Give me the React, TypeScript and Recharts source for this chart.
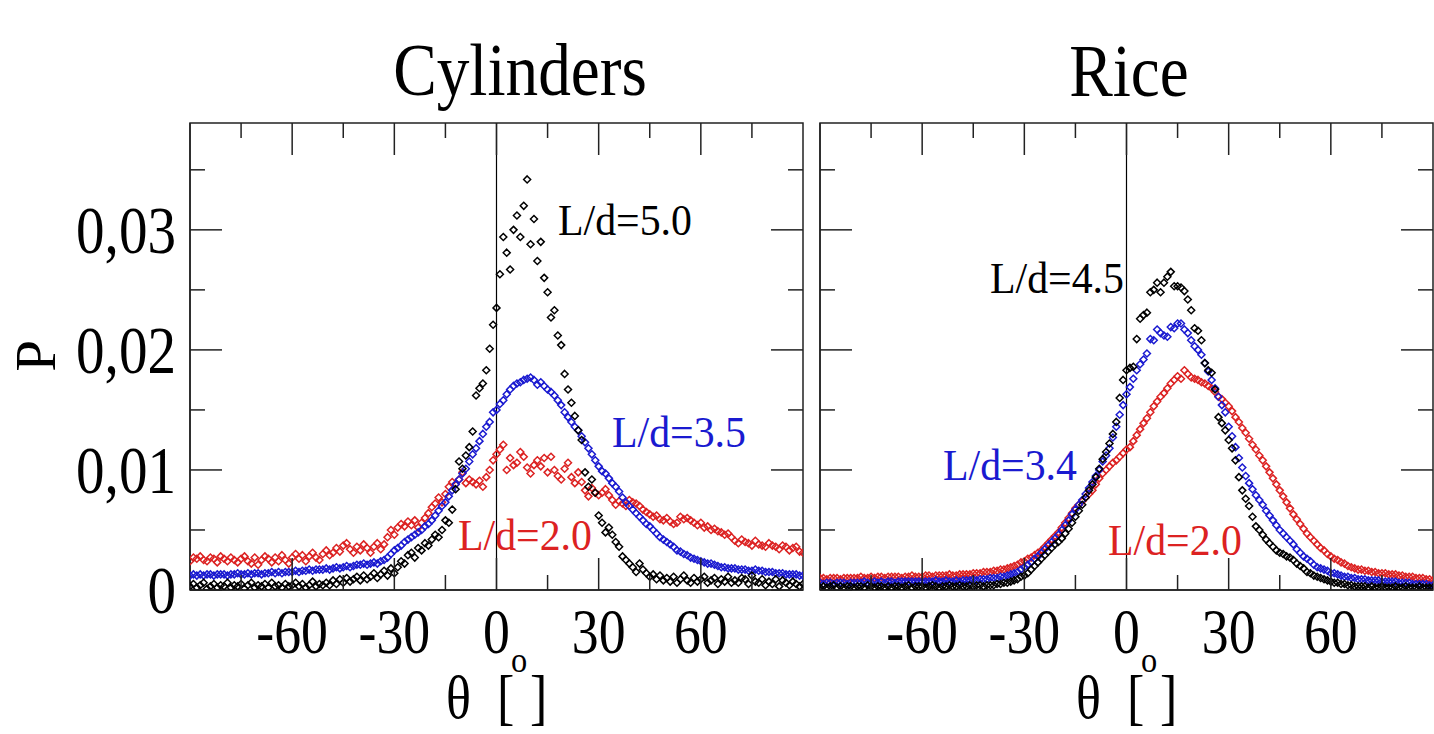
import React from "react";
import {
  ScatterChart,
  Scatter,
  XAxis,
  YAxis,
  ReferenceLine,
  ReferenceArea,
} from "recharts";

// one bin per degree, -90..90
const theta = Array.from({ length: 181 }, (_, i) => i - 90);

// P x 10^4 per bin, cylinders
const cylinders50 = [
  3, 5, 2, 4, 6, 1, 3, 5, 2, 4,
  3, 6, 2, 4, 3, 5, 1, 4, 6, 2,
  4, 3, 5, 2, 6, 3, 4, 2, 5, 3,
  4, 6, 3, 5, 2, 4, 7, 3, 5, 4,
  6, 4, 8, 5, 9, 6, 10, 7, 9, 11,
  8, 12, 9, 11, 14, 10, 13, 16, 12, 18,
  14, 19, 24, 22, 29, 31, 27, 35, 33, 39,
  37, 42, 46, 44, 50, 58, 56, 67, 84, 107,
  101, 112, 119, 132, 162, 168, 172, 183, 201, 221,
  235, 263, 294, 281, 267, 300, 312, 294, 320, 342,
  288, 309, 274, 290, 260, 248, 227, 233, 212, 204,
  180, 167, 156, 145, 133, 125, 98, 86, 92, 81,
  62, 56, 48, 52, 46, 40, 36, 28, 25, 22,
  19, 15, 22, 17, 14, 11, 13, 9, 12, 8,
  10, 7, 11, 6, 9, 12, 8, 6, 10, 7,
  9, 11, 6, 8, 10, 5, 9, 7, 11, 6,
  8, 6, 10, 9, 5, 12, 7, 6, 9, 4,
  7, 5, 9, 3, 8, 6, 4, 7, 5, 3,
  5,
];

const cylinders35 = [
  12, 13, 12, 13, 12, 13, 13, 12, 13, 13,
  13, 12, 13, 13, 14, 13, 13, 14, 13, 14,
  14, 13, 14, 14, 15, 14, 15, 14, 15, 15,
  15, 16, 15, 16, 16, 17, 16, 17, 17, 17,
  18, 17, 18, 19, 18, 19, 20, 19, 20, 21,
  21, 22, 21, 22, 23, 22, 24, 25, 27, 30,
  33, 35, 37, 40, 42, 44, 46, 48, 50, 53,
  55, 58, 62, 66, 70, 73, 78, 83, 88, 92,
  97, 101, 107, 113, 118, 124, 130, 136, 140, 148,
  150, 155, 158, 163, 167, 170, 172, 173, 175, 176,
  177, 175, 171, 173, 170, 167, 165, 162, 158, 154,
  148, 144, 140, 136, 133, 128, 123, 118, 113, 108,
  103, 99, 97, 93, 89, 86, 82, 77, 73, 70,
  67, 64, 61, 58, 55, 53, 50, 47, 44, 42,
  40, 38, 36, 33, 32, 30, 29, 27, 26, 25,
  24, 23, 22, 22, 21, 20, 19, 19, 18, 18,
  18, 17, 17, 17, 16, 16, 17, 16, 16, 15,
  15, 15, 14, 14, 14, 13, 13, 13, 13, 12,
  12,
];

const cylinders20 = [
  24, 27, 26, 28, 25, 24, 27, 26, 23, 28,
  26, 24, 27, 25, 23, 26, 28, 24, 22, 27,
  21, 25, 28, 26, 23, 27, 24, 29, 25, 22,
  27, 30, 26, 29, 24, 28, 31, 27, 25, 30,
  33, 29, 31, 35, 32, 37, 39, 34, 31, 36,
  33, 38, 35, 31, 36, 39, 34, 38, 44, 50,
  46, 52, 55, 53, 57, 54, 58, 52, 56, 60,
  64, 69, 72, 77, 73, 80, 86, 90, 88, 92,
  98, 89, 92, 90, 88, 91, 86, 94, 100, 108,
  113, 117, 121, 100, 110, 104, 106, 115, 111, 102,
  97, 104, 108, 103, 110, 98, 111, 100, 95, 92,
  101, 106, 94, 89, 98, 90, 83, 78, 85, 81,
  79, 81, 84, 79, 75, 71, 74, 72, 70, 75,
  73, 72, 70, 67, 65, 63, 61, 62, 59, 58,
  60, 57, 55, 56, 61, 59, 60, 58, 56, 54,
  56, 52, 53, 50, 51, 49, 48, 46, 47, 44,
  41, 39, 42, 40, 39, 37, 41, 38, 37, 36,
  39, 37, 36, 34, 37, 36, 33, 35, 36, 32,
  31,
];

// P x 10^4 per bin, rice
const rice45 = [
  2, 3, 2, 3, 4, 2, 3, 2, 3, 3,
  2, 3, 3, 2, 4, 3, 2, 3, 3, 2,
  3, 2, 3, 3, 2, 3, 4, 2, 3, 3,
  3, 2, 3, 4, 3, 2, 3, 3, 4, 3,
  3, 4, 3, 3, 4, 3, 4, 4, 3, 4,
  4, 4, 5, 5, 6, 6, 7, 8, 9, 11,
  12, 14, 17, 20, 23, 26, 29, 32, 35, 38,
  40, 43, 47, 51, 56, 61, 66, 71, 77, 83,
  88, 94, 101, 109, 115, 122, 130, 140, 160, 175,
  183, 185, 186, 209, 226, 229, 231, 248, 250, 256,
  248, 256, 261, 265, 253, 253, 252, 249, 242, 233,
  218, 216, 208, 189, 183, 181, 167, 144, 139, 133,
  125, 118, 108, 94, 83, 76, 70, 61, 53, 50,
  46, 42, 39, 36, 33, 31, 30, 28, 27, 25,
  22, 20, 18, 15, 14, 12, 11, 10, 9, 8,
  7, 6, 6, 5, 5, 4, 4, 3, 3, 3,
  3, 2, 3, 2, 2, 3, 2, 2, 2, 3,
  2, 2, 3, 2, 2, 2, 3, 2, 2, 2,
  2,
];

const rice34 = [
  6, 5, 6, 6, 5, 6, 6, 6, 5, 6,
  6, 6, 6, 7, 6, 6, 7, 6, 7, 6,
  7, 7, 6, 7, 7, 7, 7, 7, 7, 7,
  7, 7, 7, 7, 8, 7, 7, 8, 7, 7,
  8, 7, 8, 8, 8, 9, 8, 9, 9, 9,
  10, 10, 10, 11, 11, 12, 13, 14, 15, 17,
  19, 21, 23, 26, 28, 31, 34, 37, 40, 43,
  46, 50, 54, 58, 63, 67, 71, 75, 80, 85,
  90, 95, 100, 107, 112, 118, 127, 136, 146, 154,
  163, 169, 176, 183, 188, 192, 197, 209, 208, 217,
  214, 212, 211, 219, 218, 222, 222, 217, 214, 208,
  203, 200, 196, 189, 182, 175, 168, 161, 154, 148,
  136, 128, 119, 110, 102, 95, 89, 84, 79, 75,
  71, 66, 62, 58, 54, 50, 47, 44, 41, 38,
  34, 31, 28, 26, 24, 21, 19, 18, 17, 16,
  14, 14, 13, 12, 11, 11, 10, 10, 9, 9,
  9, 8, 8, 8, 8, 7, 7, 7, 7, 7,
  6, 6, 6, 6, 5, 5, 5, 5, 5, 4,
  4,
];

const rice20 = [
  10, 10, 9, 10, 10, 10, 9, 10, 10, 10,
  10, 10, 11, 10, 10, 11, 10, 11, 11, 10,
  11, 11, 11, 11, 10, 11, 11, 12, 11, 11,
  11, 12, 12, 11, 12, 12, 12, 12, 13, 12,
  12, 13, 13, 13, 13, 14, 14, 14, 15, 15,
  15, 16, 16, 17, 17, 18, 19, 20, 21, 23,
  24, 26, 27, 29, 31, 33, 36, 39, 42, 45,
  48, 52, 56, 60, 64, 68, 71, 74, 77, 80,
  83, 88, 93, 97, 100, 103, 106, 108, 111, 114,
  117, 119, 124, 129, 134, 139, 143, 148, 153, 157,
  161, 164, 168, 172, 175, 178, 176, 183, 180, 177,
  176, 175, 173, 172, 170, 168, 165, 161, 159, 156,
  153, 149, 144, 140, 135, 131, 126, 121, 117, 112,
  108, 103, 98, 93, 88, 83, 78, 73, 68, 63,
  59, 55, 51, 47, 44, 41, 38, 35, 33, 30,
  28, 26, 25, 23, 22, 20, 19, 18, 17, 17,
  16, 16, 15, 15, 14, 14, 14, 13, 13, 13,
  12, 12, 11, 11, 11, 10, 10, 10, 9, 9,
  8,
];

const X_TICKS = [-75, -60, -45, -30, -15, 0, 15, 30, 45, 60, 75];
const Y_TICKS = [0, 0.005, 0.01, 0.015, 0.02, 0.025, 0.03, 0.035];
const Y_MAX = 0.0389;

const RED = "#dc2222";
const BLUE = "#1a1ad0";
const BLACK = "#000000";
const FRAME = "#222222";
const FONT = "'Liberation Serif', 'Times New Roman', serif";

// chart geometry (local to each ScatterChart)
const CHART_W = 804;
const CHART_H = 734;
const AXIS_W = 190;
const PLOT_TOP = 123;
const PLOT_BOTTOM = 590;
const PLOT_RIGHT = 803;

const toPoints = (vals: number[]) =>
  vals.map((v, i) => ({ theta: theta[i], p: v / 10000 }));

const diamond = (color: string) => (props: any) => {
  const { cx, cy } = props;
  if (cx == null || cy == null) return <g />;
  const r = 3.5;
  return (
    <path
      d={`M${cx},${cy - r}L${cx + r},${cy}L${cx},${cy + r}L${cx - r},${cy}Z`}
      fill="none"
      stroke={color}
      strokeWidth={1.5}
    />
  );
};

// narrow, tall serif text like the plotting program's output
function Squeezed({
  x,
  y,
  size,
  sx = 0.84,
  anchor = "middle",
  color = BLACK,
  children,
}: {
  x: number;
  y: number;
  size: number;
  sx?: number;
  anchor?: "start" | "middle" | "end";
  color?: string;
  children: React.ReactNode;
}) {
  return (
    <g transform={`translate(${x},${y}) scale(${sx},1)`}>
      <text
        x={0}
        y={0}
        textAnchor={anchor}
        fontFamily={FONT}
        fontSize={size}
        fill={color}
      >
        {children}
      </text>
    </g>
  );
}

function XTick(props: any) {
  const { x, payload } = props;
  const v = payload.value;
  const major = v % 30 === 0;
  const len = major ? 32 : 15;
  return (
    <g>
      <line x1={x} x2={x} y1={PLOT_BOTTOM} y2={PLOT_BOTTOM - len} stroke={FRAME} strokeWidth={1.5} />
      <line x1={x} x2={x} y1={PLOT_TOP} y2={PLOT_TOP + len} stroke={FRAME} strokeWidth={1.5} />
      {major && (
        <Squeezed x={x} y={653} size={64}>
          {String(v)}
        </Squeezed>
      )}
    </g>
  );
}

function YTick(props: any) {
  const { y, payload, showLabels } = props;
  const v = payload.value;
  const major = Math.round(v * 1000) % 10 === 0;
  const len = major ? 32 : 15;
  const label = v === 0 ? "0" : v.toFixed(2).replace(".", ",");
  return (
    <g>
      <line x1={AXIS_W} x2={AXIS_W + len} y1={y} y2={y} stroke={FRAME} strokeWidth={1.5} />
      <line x1={PLOT_RIGHT} x2={PLOT_RIGHT - len} y1={y} y2={y} stroke={FRAME} strokeWidth={1.5} />
      {showLabels && major && (
        <Squeezed x={176} y={y + 23} size={68} anchor="end">
          {label}
        </Squeezed>
      )}
    </g>
  );
}

interface SeriesDef {
  name: string;
  color: string;
  values: number[];
}

function Panel({ series, showLabels }: { series: SeriesDef[]; showLabels: boolean }) {
  return (
    <ScatterChart
      width={CHART_W}
      height={CHART_H}
      margin={{ top: PLOT_TOP, right: CHART_W - PLOT_RIGHT, bottom: 0, left: 0 }}
    >
      <XAxis
        type="number"
        dataKey="theta"
        domain={[-90, 90]}
        ticks={X_TICKS}
        allowDataOverflow
        height={CHART_H - PLOT_BOTTOM}
        tickLine={false}
        axisLine={{ stroke: FRAME, strokeWidth: 1.5 }}
        tick={(p: any) => <XTick {...p} />}
        interval={0}
      />
      <YAxis
        type="number"
        dataKey="p"
        domain={[0, Y_MAX]}
        ticks={Y_TICKS}
        allowDataOverflow
        width={AXIS_W}
        tickLine={false}
        axisLine={{ stroke: FRAME, strokeWidth: 1.5 }}
        tick={(p: any) => <YTick {...p} showLabels={showLabels} />}
        interval={0}
      />
      <ReferenceArea
        x1={-90}
        x2={90}
        y1={0}
        y2={Y_MAX}
        fill="none"
        fillOpacity={0}
        stroke={FRAME}
        strokeWidth={1.5}
      />
      <ReferenceLine x={0} stroke={BLACK} strokeWidth={1.2} />
      {series.map((s) => (
        <Scatter
          key={s.name}
          name={s.name}
          data={toPoints(s.values)}
          shape={diamond(s.color)}
          isAnimationActive={false}
        />
      ))}
    </ScatterChart>
  );
}

// θ [°] under each panel, kept just inside the bottom edge
function ThetaLabel({ cx }: { cx: number }) {
  return (
    <g>
      <Squeezed x={cx - 50} y={718} size={62} anchor="start">θ</Squeezed>
      <Squeezed x={cx + 1} y={718} size={62} anchor="start">[</Squeezed>
      <Squeezed x={cx + 23} y={672} size={36} sx={0.9}>o</Squeezed>
      <Squeezed x={cx + 34} y={718} size={62} anchor="start">]</Squeezed>
    </g>
  );
}

export default function App() {
  const cylinders: SeriesDef[] = [
    { name: "L/d=2.0", color: RED, values: cylinders20 },
    { name: "L/d=3.5", color: BLUE, values: cylinders35 },
    { name: "L/d=5.0", color: BLACK, values: cylinders50 },
  ];
  const rice: SeriesDef[] = [
    { name: "L/d=2.0", color: RED, values: rice20 },
    { name: "L/d=3.4", color: BLUE, values: rice34 },
    { name: "L/d=4.5", color: BLACK, values: rice45 },
  ];

  return (
    <div
      style={{
        position: "absolute",
        left: 0,
        top: 0,
        width: 1434,
        height: 734,
        overflow: "hidden",
        background: "#fff",
      }}
    >
      <div style={{ position: "absolute", left: 0, top: 0 }}>
        <Panel series={cylinders} showLabels />
      </div>
      <div style={{ position: "absolute", left: 630, top: 0 }}>
        <Panel series={rice} showLabels={false} />
      </div>
      <svg
        width={1434}
        height={734}
        style={{ position: "absolute", left: 0, top: 0, pointerEvents: "none" }}
      >
        <Squeezed x={520} y={95} size={75} sx={0.87}>Cylinders</Squeezed>
        <Squeezed x={1129} y={96} size={75} sx={0.87}>Rice</Squeezed>

        <g transform="translate(55,356) rotate(-90)">
          <text x={0} y={0} textAnchor="middle" fontFamily={FONT} fontSize={57} fill={BLACK}>
            P
          </text>
        </g>

        <Squeezed x={558} y={235} size={45} sx={0.93} anchor="start">L/d=5.0</Squeezed>
        <Squeezed x={612} y={447} size={45} sx={0.93} anchor="start" color={BLUE}>L/d=3.5</Squeezed>
        <Squeezed x={458} y={550} size={45} sx={0.93} anchor="start" color={RED}>L/d=2.0</Squeezed>

        <Squeezed x={990} y={293} size={45} sx={0.93} anchor="start">L/d=4.5</Squeezed>
        <Squeezed x={943} y={480} size={45} sx={0.93} anchor="start" color={BLUE}>L/d=3.4</Squeezed>
        <Squeezed x={1108} y={555} size={45} sx={0.93} anchor="start" color={RED}>L/d=2.0</Squeezed>

        <ThetaLabel cx={496} />
        <ThetaLabel cx={1126} />
      </svg>
    </div>
  );
}
